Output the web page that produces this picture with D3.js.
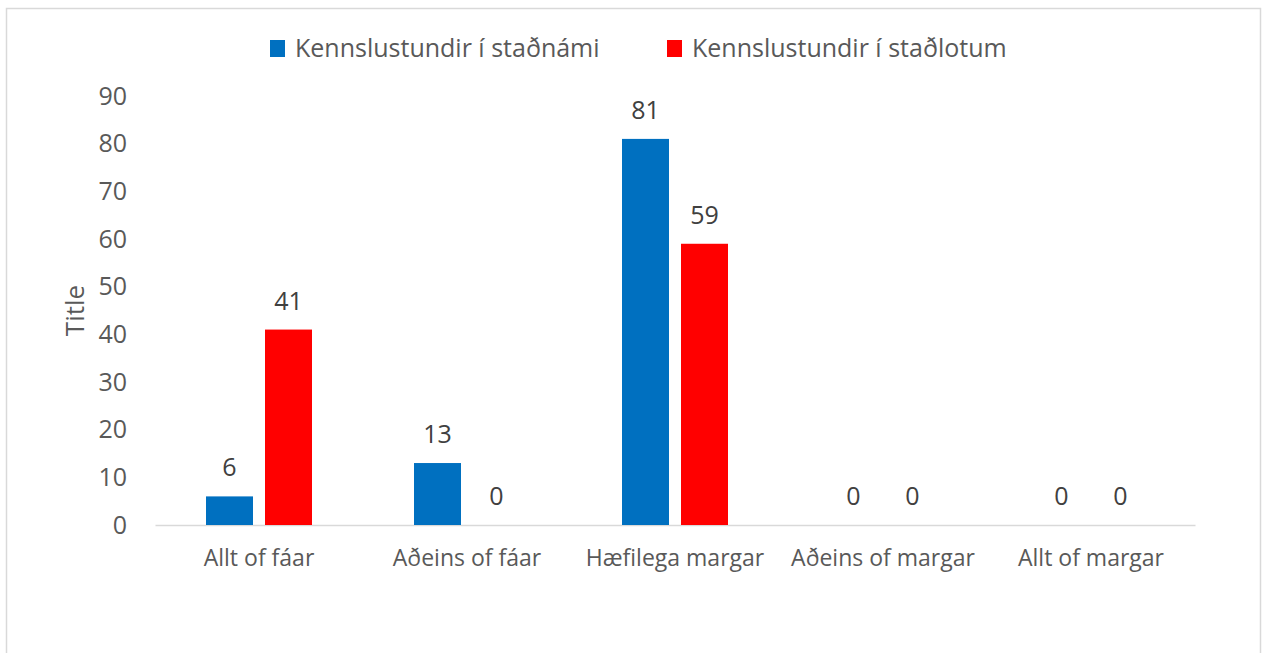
<!DOCTYPE html>
<html>
<head>
<meta charset="utf-8">
<style>
body { margin: 0; background: #fff; }
svg text { font-family: "Open Sans", "Noto Sans", sans-serif; }
</style>
</head>
<body>
<svg width="1263" height="653"></svg>
<script src="https://cdn.jsdelivr.net/npm/d3@7/dist/d3.min.js"></script>
<script>
var categories = ["Allt of fáar", "Aðeins of fáar", "Hæfilega margar", "Aðeins of margar", "Allt of margar"];
var seriesNames = ["Kennslustundir í staðnámi", "Kennslustundir í staðlotum"];
var stadnami = [6, 13, 81, 0, 0];
var stadlotum = [41, 0, 59, 0, 0];
var yTicks = [0, 10, 20, 30, 40, 50, 60, 70, 80, 90];
var colors = ["#0070c0", "#ff0000"];

var seriesValues = [stadnami, stadlotum];
var data = categories.map(function(c, i) {
  return { cat: c, vals: seriesNames.map(function(s, j) { return { key: s, value: seriesValues[j][i] }; }) };
});

var svg = d3.select("svg");

// chart frame
svg.append("rect")
    .attr("x", 6.5).attr("y", 8.5)
    .attr("width", 1254).attr("height", 700)
    .attr("fill", "#fff")
    .attr("stroke", "#d9d9d9")
    .attr("stroke-width", 1.5);

var plotLeft = 155, plotRight = 1195, plotTop = 96, plotBottom = 525;

var x0 = d3.scaleBand()
    .domain(categories)
    .range([plotLeft, plotRight]);

var x1 = d3.scaleBand()
    .domain(seriesNames)
    .range([51, 157])
    .paddingInner(12 / 59);

var y = d3.scaleLinear()
    .domain([0, 90])
    .range([plotBottom, plotTop]);

// y tick labels (no axis line)
var yAxis = svg.append("g")
    .attr("transform", "translate(" + plotLeft + ",0)")
    .call(d3.axisLeft(y).tickValues(yTicks).tickSize(0).tickPadding(28));
yAxis.select(".domain").remove();
yAxis.selectAll("text")
    .attr("font-size", 25)
    .attr("font-family", "Open Sans, sans-serif")
    .attr("fill", "#595959");

// x axis line + labels
var xAxis = svg.append("g")
    .attr("transform", "translate(0," + plotBottom + ")")
    .call(d3.axisBottom(x0).tickSize(0).tickPadding(25));
xAxis.select(".domain").attr("stroke", "#d9d9d9").attr("stroke-width", 1.5);
xAxis.selectAll("text")
    .attr("font-size", 23)
    .attr("font-family", "Open Sans, sans-serif")
    .attr("fill", "#595959");

// bars
var groups = svg.append("g")
  .selectAll("g")
  .data(data)
  .enter().append("g")
    .attr("transform", function(d) { return "translate(" + x0(d.cat) + ",0)"; });

groups.selectAll("rect")
  .data(function(d) { return d.vals; })
  .enter().append("rect")
    .attr("x", function(d) { return x1(d.key); })
    .attr("y", function(d) { return y(d.value); })
    .attr("width", x1.bandwidth())
    .attr("height", function(d) { return y(0) - y(d.value); })
    .attr("fill", function(d, i) { return colors[i]; });

groups.selectAll("text")
  .data(function(d) { return d.vals; })
  .enter().append("text")
    .attr("x", function(d) { return x1(d.key) + x1.bandwidth() / 2; })
    .attr("y", function(d) { return y(d.value) - 20; })
    .attr("text-anchor", "middle")
    .attr("font-size", 25)
    .attr("fill", "#404040")
    .text(function(d) { return d.value; });

// y axis title
svg.append("text")
    .attr("transform", "translate(84," + ((plotTop + plotBottom) / 2) + ") rotate(-90)")
    .attr("text-anchor", "middle")
    .attr("font-size", 26)
    .attr("fill", "#595959")
    .text("Title");

// legend
var legendX = [270, 667];
var legend = svg.append("g")
  .selectAll("g")
  .data(seriesNames)
  .enter().append("g")
    .attr("transform", function(d, i) { return "translate(" + legendX[i] + ",40)"; });

legend.append("rect")
    .attr("width", 15).attr("height", 17)
    .attr("fill", function(d, i) { return colors[i]; });

legend.append("text")
    .attr("x", 25).attr("y", 8.5)
    .attr("dy", "0.35em")
    .attr("font-size", 25)
    .attr("fill", "#595959")
    .text(function(d) { return d; });
</script>
</body>
</html>
